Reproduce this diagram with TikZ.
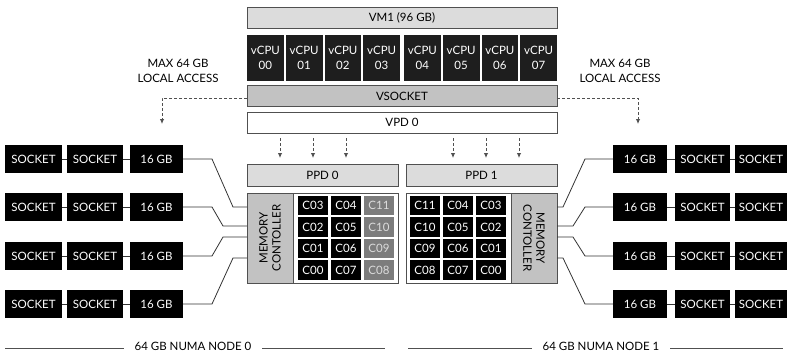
\documentclass[tikz,border=0pt]{standalone}
\usepackage{fontspec}
\setmainfont{Lato}
\usetikzlibrary{arrows.meta}
\definecolor{edge}{HTML}{505050}
\definecolor{lightfill}{HTML}{DCDCDC}
\definecolor{midfill}{HTML}{C2C2C2}
\definecolor{darkcell}{HTML}{1E1E1E}
\definecolor{coregray}{HTML}{7C7C7C}
\definecolor{wire}{HTML}{333333}
\tikzset{
  cell/.style={rectangle, inner sep=0pt, outer sep=0pt, font=\fontsize{11.5}{13}\selectfont},
  lightbar/.style={cell, draw=edge, line width=0.9pt, fill=lightfill, minimum width=310pt, minimum height=21pt},
  vcpu/.style={cell, fill=darkcell, text=white, minimum width=36.75pt, minimum height=46pt, align=center, font=\fontsize{11.5}{14.5}\selectfont},
  ppd/.style={cell, draw=edge, line width=0.9pt, fill=lightfill, minimum width=151pt, minimum height=22pt},
  die/.style={cell, draw=edge, line width=0.9pt, fill=white, minimum width=151pt, minimum height=90pt},
  memctl/.style={cell, draw=edge, line width=0.9pt, fill=midfill, minimum width=46pt, minimum height=90pt},
  core/.style={cell, fill=black, text=white, minimum width=30pt, minimum height=19.5pt},
  fadedcore/.style={core, fill=coregray, text=lightfill},
  blk/.style={cell, fill=black, text=white, minimum height=28pt},
  wirestyle/.style={draw=wire, line width=0.8pt},
  hint/.style={draw=edge, line width=0.9pt, dash pattern=on 3pt off 2pt, -{Latex[length=5pt,width=4.5pt]}},
  note/.style={cell, align=center, font=\fontsize{11.5}{15}\selectfont},
  rule/.style={draw=edge, line width=0.8pt},
}
\begin{document}
\begin{tikzpicture}[x=1pt,y=-1pt]
\useasboundingbox (0,0) rectangle (788,354);

% virtual machine layer
\node[lightbar] (vm) at (402,17.5) {VM1 (96 GB)};
\foreach \i/\x in {0/265.375,1/304.125,2/342.875,3/381.625,4/422.375,5/461.125,6/499.875,7/538.625}
  \node[vcpu] (v\i) at (\x,58) {vCPU\\0\i};
\node[lightbar, fill=midfill] (vsock) at (402,96) {VSOCKET};
\node[lightbar, fill=white] (vpd) at (402,122.5) {VPD 0};

% physical proximity domains
\node[ppd] (ppd0) at (322.5,175) {PPD 0};
\node[ppd] (ppd1) at (481.5,175) {PPD 1};
\node[die] (die0) at (322.5,238) {};
\node[die] (die1) at (481.5,238) {};
\node[memctl] (mc0) at (270,238) {};
\node[memctl] (mc1) at (534,238) {};
\node[cell, rotate=90, align=center, font=\fontsize{11.5}{13}\selectfont] at (mc0.center) {MEMORY\\CONTOLLER};
\node[cell, rotate=-90, align=center, font=\fontsize{11.5}{13}\selectfont] at (mc1.center) {MEMORY\\CONTOLLER};

% cores of PPD 0
\foreach \y/\a/\b/\c in {205.5/C03/C04/C11, 227/C02/C05/C10, 248.5/C01/C06/C09, 270/C00/C07/C08} {
  \node[core] (l\a) at (313,\y) {\a};
  \node[core] (l\b) at (346,\y) {\b};
  \node[fadedcore] (l\c) at (379,\y) {\c};
}
% cores of PPD 1
\foreach \y/\a/\b/\c in {205.5/C11/C04/C03, 227/C10/C05/C02, 248.5/C09/C06/C01, 270/C08/C07/C00} {
  \node[core] (r\a) at (425,\y) {\a};
  \node[core] (r\b) at (458,\y) {\b};
  \node[core] (r\c) at (491,\y) {\c};
}

% memory banks on the left
\foreach \r/\y in {1/159,2/207,3/256,4/304} {
  \node[blk, minimum width=57pt] (sa\r) at (33.5,\y) {SOCKET};
  \node[blk, minimum width=56pt] (sb\r) at (95,\y) {SOCKET};
  \node[blk, minimum width=53pt] (ga\r) at (156.5,\y) {16 GB};
  \draw[wirestyle] (sa\r) -- (sb\r);
  \draw[wirestyle] (sb\r) -- (ga\r);
}
% memory banks on the right
\foreach \r/\y in {1/159,2/207,3/256,4/304} {
  \node[blk, minimum width=54pt] (gb\r) at (640,\y) {16 GB};
  \node[blk, minimum width=55pt] (sc\r) at (702.5,\y) {SOCKET};
  \node[blk, minimum width=52pt] (sd\r) at (761,\y) {SOCKET};
  \draw[wirestyle] (gb\r) -- (sc\r);
  \draw[wirestyle] (sc\r) -- (sd\r);
}

% taps on the memory controllers
\coordinate (ml1) at (247,207);
\coordinate (ml2) at (247,226);
\coordinate (ml3) at (247,237);
\coordinate (ml4) at (247,258);
\coordinate (mr1) at (557,207);
\coordinate (mr2) at (557,226);
\coordinate (mr3) at (557,237);
\coordinate (mr4) at (557,258);

\draw[wirestyle] (ga1.east) -- (212,159) -- (233,207) -- (ml1);
\draw[wirestyle] (ga2.east) -- (212,207) -- (223,226) -- (ml2);
\draw[wirestyle] (ga3.east) -- (212,256) -- (223,237) -- (ml3);
\draw[wirestyle] (ga4.east) -- (212,304) -- (233,258) -- (ml4);

\draw[wirestyle] (mr1) -- (563,207) -- (585,159) -- (gb1.west);
\draw[wirestyle] (mr2) -- (573,226) -- (585,207) -- (gb2.west);
\draw[wirestyle] (mr3) -- (573,237) -- (585,256) -- (gb3.west);
\draw[wirestyle] (mr4) -- (563,258) -- (585,304) -- (gb4.west);

% local access hints
\node[note] (noteL) at (178,71) {MAX 64 GB\\LOCAL ACCESS};
\node[note] (noteR) at (620,71) {MAX 64 GB\\LOCAL ACCESS};
\coordinate (hl0) at (247,98);
\coordinate (hl1) at (162,124);
\coordinate (hr0) at (557,98);
\coordinate (hr1) at (638,124);
\draw[hint] (hl0) -- (hl0 -| hl1) -- (hl1);
\draw[hint] (hr0) -- (hr0 -| hr1) -- (hr1);

% vCPU placement arrows from VPD 0 into the PPDs
\foreach \k/\x in {1/280,2/313,3/346,4/453,5/486,6/519} {
  \coordinate (pa\k) at (\x,138);
  \coordinate (pb\k) at (\x,158);
  \draw[hint] (pa\k) -- (pb\k);
}

% NUMA node captions
\node[cell] (numa0) at (193,346.5) {64 GB NUMA NODE 0};
\node[cell] (numa1) at (601,346.5) {64 GB NUMA NODE 1};
\coordinate (n0a) at (5,348);
\coordinate (n0b) at (385,348);
\coordinate (n1a) at (408,348);
\coordinate (n1b) at (783,348);
\draw[rule] (n0a) -- ([xshift=-11pt]numa0.west |- n0a);
\draw[rule] ([xshift=11pt]numa0.east |- n0b) -- (n0b);
\draw[rule] (n1a) -- ([xshift=-11pt]numa1.west |- n1a);
\draw[rule] ([xshift=11pt]numa1.east |- n1b) -- (n1b);
\end{tikzpicture}
\end{document}
